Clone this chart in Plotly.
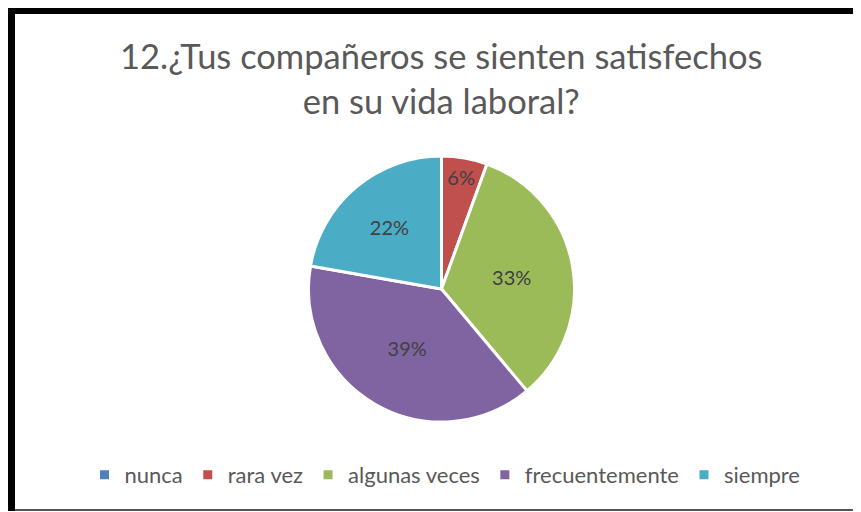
import plotly.graph_objects as go

labels = ["nunca", "rara vez", "algunas veces", "frecuentemente", "siempre"]
counts = [0, 1, 6, 7, 4]
colors = ["#4F81BD", "#C0504D", "#9BBB59", "#8064A2", "#4BACC6"]
title_text = "12.¿Tus compañeros se sienten satisfechos<br>en su vida laboral?"

W, H = 861, 512
OFF = 8  # page body margin

def px_x(x):
    return (x - OFF) / W

def px_y(y):
    return 1 - (y - OFF) / H

fig = go.Figure()
fig.add_trace(go.Pie(
    labels=labels,
    values=counts,
    marker=dict(colors=colors, line=dict(color="white", width=3)),
    sort=False,
    direction="clockwise",
    rotation=0,
    textinfo="percent",
    texttemplate="%{percent:.0%}",
    textposition="inside",
    insidetextorientation="horizontal",
    textfont=dict(family="Lato, Open Sans, sans-serif", size=20, color="#404040"),
    domain=dict(x=[px_x(308), px_x(575)], y=[px_y(422), px_y(156)]),
    showlegend=True,
    hoverinfo="label+percent",
))

fig.update_layout(
    width=W, height=H,
    margin=dict(l=0, r=0, t=0, b=0),
    paper_bgcolor="white",
    plot_bgcolor="white",
    font=dict(family="Lato, Open Sans, sans-serif", color="#595959"),
    legend=dict(
        orientation="h",
        x=px_x(445), xanchor="center",
        y=px_y(475), yanchor="middle",
        font=dict(size=22, color="#595959"),
        itemwidth=30,
    ),
    annotations=[dict(
        text=title_text,
        x=px_x(441), y=px_y(78),
        xref="paper", yref="paper",
        xanchor="center", yanchor="middle",
        showarrow=False,
        font=dict(size=34.5, color="#595959", family="Lato, Open Sans, sans-serif"),
    )],
    shapes=[
        dict(type="rect", xref="paper", yref="paper",
             x0=px_x(7), x1=1.0, y0=px_y(14), y1=px_y(6),
             fillcolor="black", line=dict(width=0)),
        dict(type="rect", xref="paper", yref="paper",
             x0=px_x(7), x1=px_x(15), y0=px_y(511), y1=px_y(6),
             fillcolor="black", line=dict(width=0)),
        dict(type="rect", xref="paper", yref="paper",
             x0=px_x(15), x1=1.0, y0=px_y(511), y1=px_y(509),
             fillcolor="#555555", line=dict(width=0)),
    ],
)

fig.write_html("out.html")
